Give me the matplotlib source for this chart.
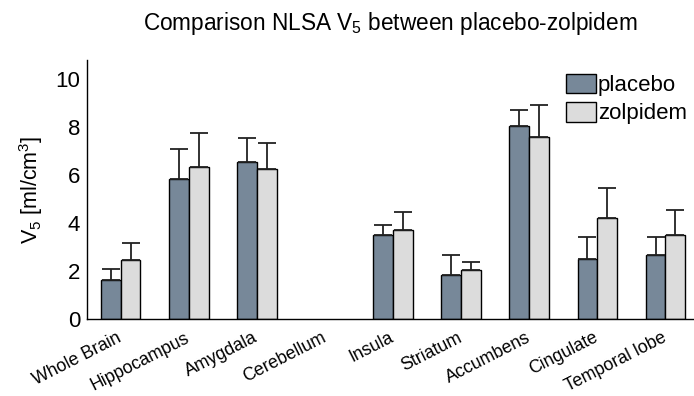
import numpy as np
import matplotlib
matplotlib.use("Agg")
import matplotlib.pyplot as plt
import matplotlib.transforms as mtransforms

plt.rcParams['font.family'] = ['Liberation Sans', 'DejaVu Sans']
plt.rcParams['mathtext.fontset'] = 'custom'
plt.rcParams['mathtext.rm'] = 'Liberation Sans'
plt.rcParams['mathtext.it'] = 'Liberation Sans:italic'

regions = ['Whole Brain', 'Hippocampus', 'Amygdala', 'Cerebellum', 'Insula',
           'Striatum', 'Accumbens', 'Cingulate', 'Temporal lobe']
placebo = [1.65, 5.85, 6.54, np.nan, 3.50, 1.83, 8.05, 2.50, 2.68]
placebo_err = [0.46, 1.23, 1.02, np.nan, 0.44, 0.86, 0.69, 0.92, 0.74]
zolpidem = [2.45, 6.35, 6.25, np.nan, 3.71, 2.04, 7.60, 4.20, 3.51]
zolpidem_err = [0.73, 1.40, 1.11, np.nan, 0.75, 0.35, 1.33, 1.25, 1.04]

fig = plt.figure(figsize=(6.94, 3.96), dpi=100)
ax = fig.add_axes([0.1254, 0.194, 0.8746, 0.654])

x = np.arange(len(regions))
w = 0.29
err_kw = dict(ecolor='#222222', elinewidth=1.3, capsize=6.5, capthick=1.3)
ax.bar(x - w/2, placebo, w, yerr=[np.zeros(len(x)), placebo_err],
       color='#778899', edgecolor='black', linewidth=1.0, label='placebo',
       error_kw=err_kw)
ax.bar(x + w/2, zolpidem, w, yerr=[np.zeros(len(x)), zolpidem_err],
       color='#dcdcdc', edgecolor='black', linewidth=1.0, label='zolpidem',
       error_kw=err_kw)

ax.set_xlim(-0.495, 8.42)
ax.set_ylim(0, 10.8)
ax.set_yticks([0, 2, 4, 6, 8, 10])
ax.tick_params(axis='y', length=0, labelsize=16, pad=5)
ax.tick_params(axis='x', length=0, labelsize=12.8, pad=3)
ax.set_xticks(x)
ax.set_xticklabels(regions, rotation=27, ha='right', rotation_mode='anchor')
offset = mtransforms.ScaledTranslation(-4/100, -6/100, fig.dpi_scale_trans)
for lab in ax.get_xticklabels():
    lab.set_transform(lab.get_transform() + offset)
for s in ['top', 'right']:
    ax.spines[s].set_visible(False)
ax.spines['left'].set_linewidth(1.0)
ax.spines['bottom'].set_linewidth(1.0)

ax.set_ylabel(r'V$_{\mathregular{5}}$ [ml/cm$^{\mathregular{3}}$]', fontsize=15.5, labelpad=7)
ax.set_title(r'Comparison NLSA V$_{\mathregular{5}}$ between placebo-zolpidem',
             fontsize=16.3, pad=22)

leg = ax.legend(loc='upper right', bbox_to_anchor=(1.01, 1.0), frameon=False,
                fontsize=16, handlelength=1.35, handleheight=1.0,
                handletextpad=0.1, labelspacing=0.25, borderaxespad=0.2)

fig.savefig('out.png', dpi=100)
